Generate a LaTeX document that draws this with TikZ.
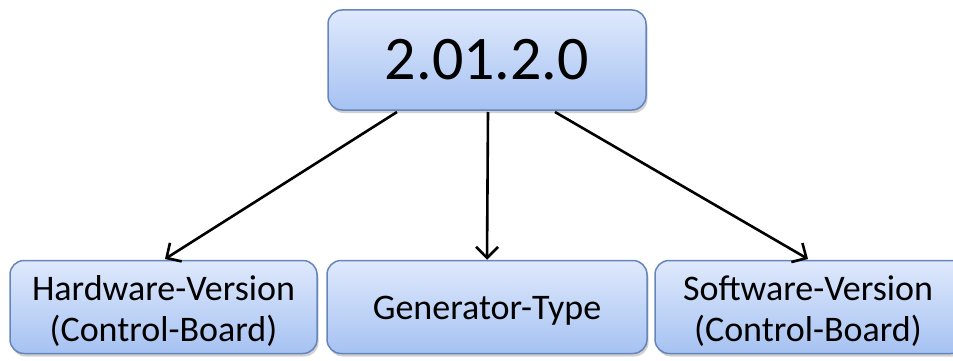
\documentclass[tikz,border=0pt]{standalone}
\usepackage{fontspec}
\setmainfont{Carlito}
\usetikzlibrary{arrows.meta,shadows}
\definecolor{boxtop}{HTML}{DFE9FC}
\definecolor{boxbot}{HTML}{A6C2F2}
\definecolor{boxedge}{HTML}{6585BC}
\tikzset{
  vbox/.style={draw=boxedge, line width=1.5pt, rounded corners=14pt,
    top color=boxtop, bottom color=boxbot,
    drop shadow={shadow xshift=1.5pt, shadow yshift=-3pt, opacity=0.3, fill=black!60},
    inner sep=0pt, align=center, text=black},
  lowtext/.style={font=\fontsize{36}{41}\selectfont},
  conn/.style={line width=2.6pt, -{Straight Barb[length=11pt,width=22pt,line width=2.6pt]}}
}
\begin{document}
\begin{tikzpicture}[x=1pt,y=-1pt]
\useasboundingbox (0,0) rectangle (953,361);
\clip (0,0) rectangle (953,361);
\node[vbox, minimum width=318pt, minimum height=100pt, font=\fontsize{62}{70}\selectfont] (top) at (487,60) {2.01.2.0};
\node[vbox, minimum width=307pt, minimum height=93pt] (hw) at (163.5,307) {};
\node[vbox, minimum width=320pt, minimum height=93pt] (gen) at (487,307) {};
\node[vbox, minimum width=310pt, minimum height=93pt] (sw) at (810,307) {};
\node[lowtext, align=center] (hwt) at (163.5,311) {Hardware-Version\\(Control-Board)};
\node[lowtext] (gent) at (487,311) {Generator-Type};
\node[lowtext, align=center] (swt) at (808,311) {Software-Version\\(Control-Board)};
\coordinate (s1) at (397,112);
\coordinate (s2) at (488,112);
\coordinate (s3) at (555,112);
\coordinate (e1) at (165,259);
\coordinate (e3) at (808,259);
\draw[conn] (s1) -- (e1);
\draw[conn] (s2) -- (gen.north);
\draw[conn] (s3) -- (e3);
\end{tikzpicture}
\end{document}
